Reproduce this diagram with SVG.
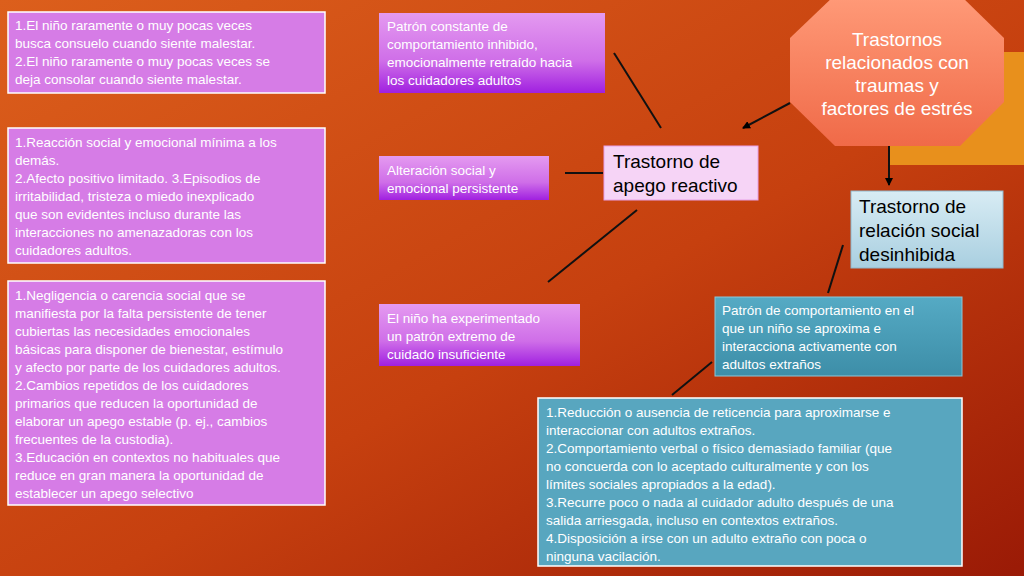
<svg xmlns="http://www.w3.org/2000/svg" width="1024" height="576" viewBox="0 0 1024 576">
<defs>
<linearGradient id="bg" x1="0" y1="0" x2="1" y2="1"><stop offset="0" stop-color="#dc5f1c"/><stop offset="0.55" stop-color="#c6400f"/><stop offset="1" stop-color="#9a1a06"/></linearGradient>
<linearGradient id="pv" x1="0" y1="0" x2="0" y2="1"><stop offset="0" stop-color="#e49af0"/><stop offset="0.6" stop-color="#cf6ee8"/><stop offset="1" stop-color="#a020e0"/></linearGradient>
<linearGradient id="oct" x1="0" y1="0" x2="0" y2="1"><stop offset="0" stop-color="#ff9a78"/><stop offset="1" stop-color="#f06a48"/></linearGradient>
<linearGradient id="lb" x1="0" y1="0" x2="0" y2="1"><stop offset="0" stop-color="#d8ecf4"/><stop offset="1" stop-color="#a9cfe0"/></linearGradient>
<linearGradient id="tl" x1="0" y1="0" x2="0" y2="1"><stop offset="0" stop-color="#55aac4"/><stop offset="1" stop-color="#3d8ea8"/></linearGradient>
<marker id="ah" markerWidth="8" markerHeight="8" refX="7" refY="4" orient="auto" markerUnits="userSpaceOnUse"><path d="M0,0L8,4L0,8z" fill="#000"/></marker>
</defs>
<style>
.t{font-family:"Liberation Sans",Arial,sans-serif;font-size:13.5px;fill:#fff}
.big{font-family:"Liberation Sans",Arial,sans-serif;font-size:19px;fill:#000}
.lbox{fill:#d67ce6;stroke:#fff;stroke-width:1.5}
.ln{stroke:#111;stroke-width:2;fill:none}
</style>
<rect width="1024" height="576" fill="url(#bg)"/>
<rect x="890" y="52" width="134" height="113" fill="#e8901c"/>
<g id="oct-node"><polygon points="835,-5 960,-5 1004,38 1004,102 960,146 835,146 790,102 790,38" fill="url(#oct)"/>
<text font-family="Liberation Sans,Arial,sans-serif" font-size="19" fill="#fff" text-anchor="middle"><tspan x="897" y="46">Trastornos</tspan><tspan x="897" y="69">relacionados con</tspan><tspan x="897" y="92">traumas y</tspan><tspan x="897" y="115">factores de estrés</tspan></text></g>
<g id="l1"><rect class="lbox" x="8" y="12" width="317" height="81"/><text class="t"><tspan x="15" y="30">1.El niño raramente o muy pocas veces</tspan><tspan x="15" y="48">busca consuelo cuando siente malestar.</tspan><tspan x="15" y="66">2.El niño raramente o muy pocas veces se</tspan><tspan x="15" y="84">deja consolar cuando siente malestar.</tspan></text></g>
<g id="l2"><rect class="lbox" x="8" y="128" width="317" height="135"/><text class="t"><tspan x="15" y="147">1.Reacción social y emocional mínima a los</tspan><tspan x="15" y="165">demás.</tspan><tspan x="15" y="183">2.Afecto positivo limitado. 3.Episodios de</tspan><tspan x="15" y="201">irritabilidad, tristeza o miedo inexplicado</tspan><tspan x="15" y="219">que son evidentes incluso durante las</tspan><tspan x="15" y="237">interacciones no amenazadoras con los</tspan><tspan x="15" y="255">cuidadores adultos.</tspan></text></g>
<g id="l3"><rect class="lbox" x="8" y="281" width="317" height="224"/><text class="t"><tspan x="15" y="300">1.Negligencia o carencia social que se</tspan><tspan x="15" y="318">manifiesta por la falta persistente de tener</tspan><tspan x="15" y="336">cubiertas las necesidades emocionales</tspan><tspan x="15" y="354">básicas para disponer de bienestar, estímulo</tspan><tspan x="15" y="372">y afecto por parte de los cuidadores adultos.</tspan><tspan x="15" y="390">2.Cambios repetidos de los cuidadores</tspan><tspan x="15" y="408">primarios que reducen la oportunidad de</tspan><tspan x="15" y="426">elaborar un apego estable (p. ej., cambios</tspan><tspan x="15" y="444">frecuentes de la custodia).</tspan><tspan x="15" y="462">3.Educación en contextos no habituales que</tspan><tspan x="15" y="480">reduce en gran manera la oportunidad de</tspan><tspan x="15" y="498">establecer un apego selectivo</tspan></text></g>
<g id="m1"><rect x="379" y="13" width="226" height="80" fill="url(#pv)"/><text class="t"><tspan x="387" y="31">Patrón constante de</tspan><tspan x="387" y="49">comportamiento inhibido,</tspan><tspan x="387" y="67">emocionalmente retraído hacia</tspan><tspan x="387" y="85">los cuidadores adultos</tspan></text></g>
<g id="m2"><rect x="379" y="156" width="170" height="44" fill="url(#pv)"/><text class="t"><tspan x="387" y="175">Alteración social y</tspan><tspan x="387" y="193">emocional persistente</tspan></text></g>
<g id="m3"><rect x="379" y="304" width="201" height="62" fill="url(#pv)"/><text class="t"><tspan x="387" y="323">El niño ha experimentado</tspan><tspan x="387" y="341">un patrón extremo de</tspan><tspan x="387" y="359">cuidado insuficiente</tspan></text></g>
<g id="rad"><rect x="604" y="146" width="154" height="54" fill="#f6d4f6" stroke="#e7a0e7"/><text class="big"><tspan x="613" y="168">Trastorno de</tspan><tspan x="613" y="192">apego reactivo</tspan></text></g>
<g id="dsed"><rect x="851" y="191" width="152" height="77" fill="url(#lb)" stroke="#8fb8cc"/><text class="big"><tspan x="859" y="213">Trastorno de</tspan><tspan x="859" y="237">relación social</tspan><tspan x="859" y="261">desinhibida</tspan></text></g>
<g id="t1"><rect x="715" y="297" width="247" height="79" fill="url(#tl)" stroke="#8cc8da"/><text class="t"><tspan x="722" y="315">Patrón de comportamiento en el</tspan><tspan x="722" y="333">que un niño se aproxima e</tspan><tspan x="722" y="351">interacciona activamente con</tspan><tspan x="722" y="369">adultos extraños</tspan></text></g>
<g id="t2"><rect x="538" y="398" width="424" height="168" fill="#58a6bf" stroke="#fff" stroke-width="1.5"/><text class="t"><tspan x="546" y="417">1.Reducción o ausencia de reticencia para aproximarse e</tspan><tspan x="546" y="435">interaccionar con adultos extraños.</tspan><tspan x="546" y="453">2.Comportamiento verbal o físico demasiado familiar (que</tspan><tspan x="546" y="471">no concuerda con lo aceptado culturalmente y con los</tspan><tspan x="546" y="489">límites sociales apropiados a la edad).</tspan><tspan x="546" y="507">3.Recurre poco o nada al cuidador adulto después de una</tspan><tspan x="546" y="525">salida arriesgada, incluso en contextos extraños.</tspan><tspan x="546" y="543">4.Disposición a irse con un adulto extraño con poca o</tspan><tspan x="546" y="561">ninguna vacilación.</tspan></text></g>
<g id="connectors">
<line class="ln" x1="614" y1="53" x2="661" y2="128"/>
<line class="ln" x1="565" y1="173" x2="603" y2="173"/>
<line class="ln" x1="637" y1="210" x2="548" y2="282"/>
<line class="ln" x1="790" y1="103" x2="743" y2="128" marker-end="url(#ah)"/>
<line class="ln" x1="889" y1="146" x2="889" y2="185" marker-end="url(#ah)"/>
<line class="ln" x1="843" y1="245" x2="828" y2="293"/>
<line class="ln" x1="712" y1="362" x2="672" y2="395"/>
</g>
</svg>
